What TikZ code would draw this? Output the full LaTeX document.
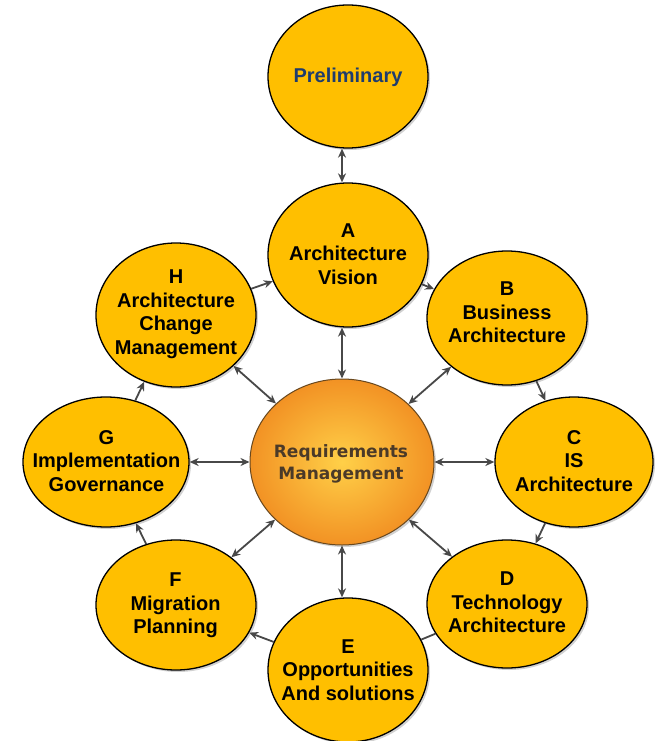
\documentclass[tikz,border=0pt]{standalone}
\usepackage{fontspec}
\setmainfont{Liberation Sans}
\newfontfamily\rmdejavu{DejaVu Sans}
\usetikzlibrary{shapes.geometric,arrows.meta,shadows}
\definecolor{phasefill}{RGB}{255,191,0}
\definecolor{arrowgray}{RGB}{72,72,72}
\definecolor{prelimblue}{RGB}{30,60,110}
\definecolor{rmtext}{RGB}{75,58,40}
\definecolor{rminner}{RGB}{255,208,72}
\definecolor{rmouter}{RGB}{242,146,36}
\definecolor{rmborder}{RGB}{105,72,30}
\begin{document}
\begin{tikzpicture}[x=1pt,y=-1pt,
  >={Stealth[length=9pt,width=8pt]},
  phase/.style={ellipse, draw=black, line width=1.3pt, fill=phasefill, inner sep=0pt,
    drop shadow={shadow xshift=2pt, shadow yshift=-2pt, opacity=0.18, fill=black}},
  hub/.style={ellipse, draw=rmborder, line width=1pt, inner color=rminner, outer color=rmouter, inner sep=0pt,
    drop shadow={shadow xshift=2pt, shadow yshift=-2pt, opacity=0.18, fill=black}},
  lbl/.style={font=\bfseries\fontsize{20}{23.5}\selectfont, align=center, inner sep=0pt, text=black},
  hublbl/.style={font=\rmdejavu\bfseries\fontsize{17}{22}\selectfont, align=center, inner sep=0pt, text=rmtext},
  link/.style={draw=arrowgray, line width=1.8pt},
]
\useasboundingbox (0,0) rectangle (657,741);
\fill[white] (0,0) rectangle (657,741);

% circles
\node[phase, minimum width=160pt, minimum height=143pt] (prelim) at (348,76.5) {};
\node[phase, minimum width=160pt, minimum height=144pt] (a) at (348,255) {};
\node[phase, minimum width=160pt, minimum height=134pt] (b) at (507,318) {};
\node[phase, minimum width=158pt, minimum height=130pt] (c) at (574,462) {};
\node[phase, minimum width=160pt, minimum height=128pt] (d) at (507,604) {};
\node[phase, minimum width=160pt, minimum height=144pt] (e) at (348,670) {};
\node[phase, minimum width=160pt, minimum height=130pt] (f) at (176,605) {};
\node[phase, minimum width=166pt, minimum height=130pt] (g) at (106,462) {};
\node[phase, minimum width=160pt, minimum height=144pt] (h) at (176,315) {};
\node[hub, minimum width=184pt, minimum height=166pt] (rm) at (342,462) {};

% labels
\node[lbl, text=prelimblue] (prelimt) at (348,77.8) {Preliminary};
\node[lbl] (at) at (348,254) {A\\Architecture\\Vision};
\node[lbl] (bt) at (507,312.5) {B\\Business\\Architecture};
\node[lbl] (ct) at (574,461) {C\\IS\\Architecture};
\node[lbl] (dt) at (507,602.5) {D\\Technology\\Architecture};
\node[lbl] (et) at (348,670) {E\\Opportunities\\And solutions};
\node[lbl] (ft) at (175.5,605.5) {F\\Migration\\Planning};
\node[lbl] (gt) at (106.5,461) {G\\Implementation\\Governance};
\node[lbl] (ht) at (176,314) {H\\Architecture\\Change\\Management};
\node[hublbl] (rmt) at (341,463.5) {Requirements\\Management};

% cycle connectors
\draw[link,<->] (prelim.south -| rm.center) -- (a.north -| rm.center);
\draw[link,->] (a) -- (b);
\draw[link,->] (b) -- (c);
\draw[link,->] (c) -- (d);
\draw[link] (d) -- (e);
\draw[link,->] (e) -- (f);
\draw[link,->] (f) -- (g);
\draw[link,->] (g) -- (h);
\draw[link,->] (h) -- (a);

% hub connectors
\draw[link,<->] (a.south -| rm.center) -- (rm.north);
\draw[link,<->] (rm) -- (b);
\draw[link,<->] (rm) -- (c);
\draw[link,<->] (rm) -- (d);
\draw[link,<->] (rm.south) -- (e.north -| rm.center);
\draw[link,<->] (rm) -- (f);
\draw[link,<->] (rm) -- (g);
\draw[link,<->] (rm) -- (h);
\end{tikzpicture}
\end{document}
